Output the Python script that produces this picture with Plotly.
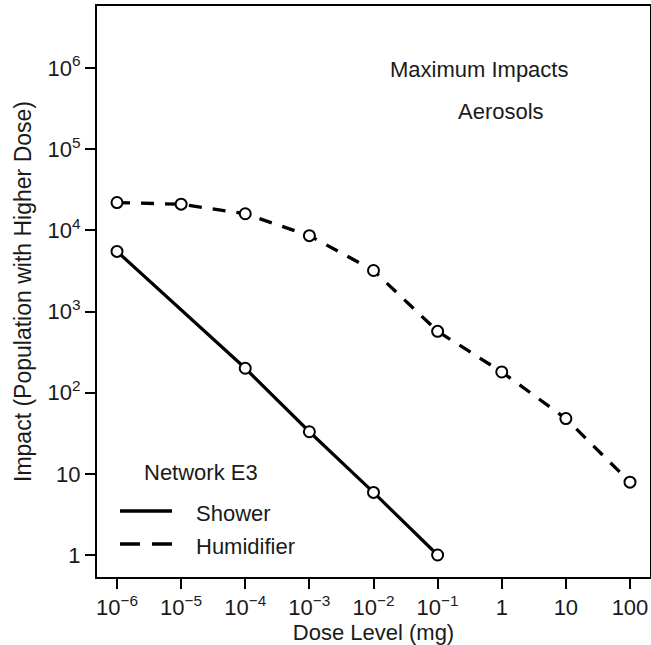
import plotly.graph_objects as go

# Data
dose_humid = [1e-6, 1e-5, 1e-4, 1e-3, 1e-2, 1e-1, 1, 10, 100]
impact_humid = [22000, 21000, 16000, 8600, 3200, 570, 180, 48, 7.9]
dose_shower = [1e-6, 1e-4, 1e-3, 1e-2, 1e-1]
impact_shower = [5500, 200, 33, 5.9, 1.0]

x_tickvals = [1e-6, 1e-5, 1e-4, 1e-3, 1e-2, 1e-1, 1, 10, 100]
x_ticktext = ["10<sup>\u22126</sup>", "10<sup>\u22125</sup>", "10<sup>\u22124</sup>",
              "10<sup>\u22123</sup>", "10<sup>\u22122</sup>", "10<sup>\u22121</sup>",
              "1", "10", "100"]
y_tickvals = [1, 10, 1e2, 1e3, 1e4, 1e5, 1e6]
y_ticktext = ["1", "10", "10<sup>2</sup>", "10<sup>3</sup>", "10<sup>4</sup>",
              "10<sup>5</sup>", "10<sup>6</sup>"]

FONT = "Liberation Sans, Arial, Helvetica, sans-serif"
FS = 22
TXT = "#1a1a1a"

fig = go.Figure()
fig.add_trace(go.Scatter(x=dose_humid, y=impact_humid, mode="lines",
                         line=dict(color="black", width=3.3, dash="13px,11px"),
                         name="Humidifier", showlegend=False))
fig.add_trace(go.Scatter(x=dose_shower, y=impact_shower, mode="lines",
                         line=dict(color="black", width=3.2),
                         name="Shower", showlegend=False))
marker = dict(symbol="circle", size=11, color="white", line=dict(color="black", width=2))
fig.add_trace(go.Scatter(x=dose_humid, y=impact_humid, mode="markers",
                         marker=marker, showlegend=False))
fig.add_trace(go.Scatter(x=dose_shower, y=impact_shower, mode="markers",
                         marker=marker, showlegend=False))

W, H = 651, 645
L, R, T, B = 97, 1, 6, 68
pw, ph = W - L - R, H - T - B

def px(x):
    return (x - L) / pw

def py(y):
    return (H - B - y) / ph

# manual legend
fig.add_shape(type="line", xref="paper", yref="paper", x0=px(120), x1=px(172),
              y0=py(511), y1=py(511), line=dict(color="black", width=3.3))
fig.add_shape(type="line", xref="paper", yref="paper", x0=px(120), x1=px(172),
              y0=py(544), y1=py(544), line=dict(color="black", width=3.3, dash="20px,12px"))
ann = dict(xref="paper", yref="paper", showarrow=False,
           font=dict(family=FONT, size=FS, color=TXT))
fig.add_annotation(text="Network E3", x=px(142), y=py(472), xanchor="left", yanchor="middle", **ann)
fig.add_annotation(text="Shower", x=px(194), y=py(513), xanchor="left", yanchor="middle", **ann)
fig.add_annotation(text="Humidifier", x=px(194), y=py(546), xanchor="left", yanchor="middle", **ann)
fig.add_annotation(text="Maximum Impacts", x=px(478.5), y=py(69), xanchor="center", yanchor="middle", **ann)
fig.add_annotation(text="Aerosols", x=px(501), y=py(111), xanchor="center", yanchor="middle", **ann)

axis_common = dict(showgrid=False, zeroline=False, showline=True, linecolor="black",
                   linewidth=2, mirror=True, ticks="outside", ticklen=10, tickwidth=2,
                   tickcolor="black", tickfont=dict(family=FONT, size=FS, color=TXT))
fig.update_xaxes(type="log", range=[-6.312, 2.312], tickvals=x_tickvals, ticktext=x_ticktext,
                 title=dict(text="Dose Level (mg)", font=dict(family=FONT, size=FS, color=TXT),
                            standoff=2),
                 **axis_common)
fig.update_yaxes(type="log", range=[-0.271, 6.764], tickvals=y_tickvals, ticktext=y_ticktext,
                 title=dict(text="Impact (Population with Higher Dose)",
                            font=dict(family=FONT, size=23, color=TXT), standoff=10),
                 **axis_common)
fig.update_layout(width=W, height=H, margin=dict(l=L, r=R, t=T, b=B, autoexpand=False),
                  plot_bgcolor="white", paper_bgcolor="white",
                  font=dict(family=FONT, size=FS, color=TXT))
fig.write_html("out.html")
